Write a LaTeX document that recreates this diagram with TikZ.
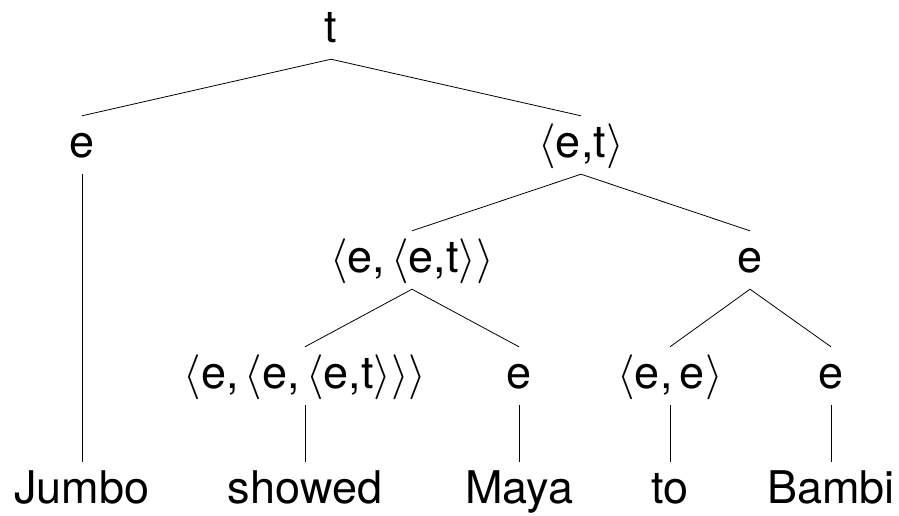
\documentclass[tikz,border=0pt]{standalone}
\usepackage{graphicx}
\usepackage{fontspec}
\setmainfont{TeX Gyre Heros}
\newcommand{\la}{{\fontsize{10}{12}\selectfont\scalebox{4.5}{$\langle$}}}
\newcommand{\ra}{{\fontsize{10}{12}\selectfont\scalebox{4.5}{$\rangle$}}}
\newcommand{\tsp}{\hspace{6pt}}
\begin{document}
\begin{tikzpicture}[x=1pt,y=-1pt,
  lbl/.style={anchor=base,inner sep=0pt,text height=41pt,text depth=17pt,
    font=\fontsize{45}{54}\selectfont},
  edge/.style={draw=black,line width=0.8pt}]
\useasboundingbox (0,0) rectangle (899,515);
\node[lbl] (t) at (331,42) {t};
\node[lbl] (e1) at (82,157) {e};
\node[lbl] (et) at (581,157) {\la e,t\ra};
\node[lbl] (eet) at (412,272) {\la e,\tsp\la e,t\ra\ra};
\node[lbl] (e2) at (750,272) {e};
\node[lbl] (eeet) at (305,388) {\la e,\tsp\la e,\tsp\la e,t\ra\ra\ra};
\node[lbl] (e3) at (519,388) {e};
\node[lbl] (ee) at (670,388) {\la e,\,e\ra};
\node[lbl] (e4) at (831,388) {e};
\node[lbl] (w1) at (82,503) {Jumbo};
\node[lbl] (w2) at (305,503) {showed};
\node[lbl] (w3) at (519,503) {Maya};
\node[lbl] (w4) at (670,503) {to};
\node[lbl] (w5) at (831,503) {Bambi};
\draw[edge] (e1.north) -- (t.south) -- (et.north);
\draw[edge] (eet.north) -- (et.south) -- (e2.north);
\draw[edge] (eeet.north) -- (eet.south) -- (e3.north);
\draw[edge] (ee.north) -- (e2.south) -- (e4.north);
\draw[edge] (e1.south) -- (w1.north);
\draw[edge] (eeet.south) -- (w2.north);
\draw[edge] (e3.south) -- (w3.north);
\draw[edge] (ee.south) -- (w4.north);
\draw[edge] (e4.south) -- (w5.north);
\end{tikzpicture}
\end{document}
